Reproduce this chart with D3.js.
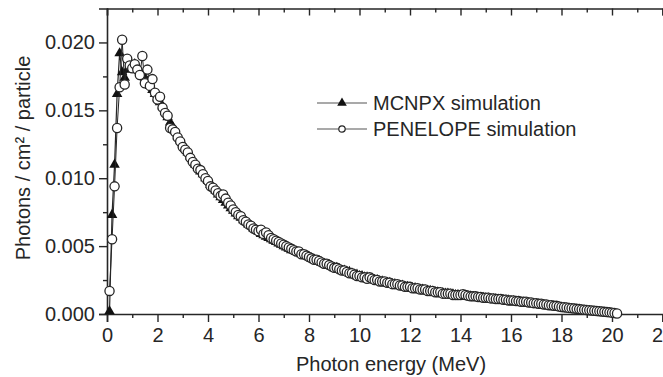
<!DOCTYPE html>
<html>
<head>
<meta charset="utf-8">
<script src="https://cdn.jsdelivr.net/npm/d3@7"></script>
<style>
  body { margin: 0; background: #fff; }
  svg { display: block; font-family: "Liberation Sans", Arial, sans-serif; }
</style>
</head>
<body>
<div id="chart"></div>
<script>
// Photon spectrum, values in units of 1e-4 photons / cm² / particle
const unit = 1e-4;

// bin grid of 0.1 MeV
const penelopeEnergy = d3.range(1, 203).map(i => i / 10);
const mcnpxEnergy = d3.range(1, 201).map(i => i / 10);

const penelopeValues = [
  17, 55, 94, 137, 167, 202, 169, 188, 183, 181,
  184, 180, 176, 190, 170, 180, 168, 173, 163, 158,
  160, 152, 148, 146, 137, 136, 134, 130, 127, 123,
  121, 119, 115, 112, 110, 107, 106, 103, 100, 98,
  94, 93, 91, 89, 87, 88, 85, 82, 80, 77,
  75, 73, 72, 69, 68, 66, 65, 63, 62, 61,
  62, 59, 60, 58, 56, 55, 54, 53, 52, 51,
  50, 49, 48, 47, 46, 46, 44, 44, 43, 42,
  41, 40, 40, 39, 38, 37, 37, 36, 35, 34,
  34, 33, 32, 32, 31, 30, 30, 29, 28, 28,
  27, 27, 26, 27, 26, 25, 25, 24, 24, 24,
  23, 23, 22, 22, 22, 21, 21, 20, 20, 20,
  19, 19, 19, 18, 18, 18, 17, 17, 17, 16,
  16, 16, 15, 15, 15, 15, 14, 14, 14, 14,
  14.5, 14, 13.5, 13, 13, 13, 12.5, 12.5, 12, 12,
  12, 11.5, 11.5, 11, 11, 11, 10.5, 10.5, 10, 10,
  10, 9.5, 9.5, 9, 9, 9, 8.5, 8.5, 8, 8,
  7.5, 7.5, 7, 7, 6.5, 6.5, 6, 6, 5.5, 5.2,
  5, 4.8, 4.5, 4.3, 4, 3.8, 3.6, 3.4, 3.2, 3,
  2.8, 2.6, 2.4, 2.2, 2, 1.8, 1.6, 1.4, 1.2, 1,
  0.7, 0.4
];

const mcnpxValues = [
  2, 73, 110, 162, 192, 178, 174, 180, 182, 183,
  184, 182, 179, 176, 174, 171, 168, 165, 162, 159,
  156, 153, 149, 145, 141, 138, 135, 131, 128, 125,
  122, 119, 116, 113, 110, 108, 105, 103, 100, 98,
  95, 93, 91, 88, 86, 84, 82, 80, 78, 76,
  74, 72, 71, 69, 68, 66, 65, 63, 62, 61,
  59, 58, 57, 56, 55, 54, 53, 52, 51, 50,
  49, 48, 47, 47, 46, 45, 44, 43, 43, 42,
  41, 40, 39, 39, 38, 37, 36, 36, 35, 34,
  34, 33, 32, 32, 31, 31, 30, 29, 29, 28,
  28, 27, 27, 26, 26, 25, 25, 24, 24, 23,
  23, 23, 22, 22, 21, 21, 21, 20, 20, 19.5,
  19, 19, 18.5, 18, 18, 17.5, 17, 17, 16.5, 16,
  16, 15.5, 15.5, 15, 15, 14.5, 14.5, 14, 14, 13.5,
  13.5, 13, 13, 13, 12.5, 12.5, 12, 12, 12, 11.5,
  11.5, 11, 11, 11, 10.5, 10.5, 10, 10, 10, 9.5,
  9.5, 9, 9, 8.5, 8.5, 8, 8, 7.5, 7.5, 7,
  7, 6.5, 6.5, 6, 6, 5.5, 5.5, 5, 5, 4.5,
  4.5, 4, 4, 3.5, 3.5, 3, 3, 2.8, 2.5, 2.2,
  2, 1.8, 1.6, 1.4, 1.2, 1, 0.8, 0.6, 0.4, 0.2
];

const xTicks = [0, 2, 4, 6, 8, 10, 12, 14, 16, 18, 20, 22];
const yTicks = [0, 0.005, 0.010, 0.015, 0.020];
const seriesNames = ['MCNPX simulation', 'PENELOPE simulation'];

const W = 663, H = 377;
const ink = '#262626';
const fontSize = '20px';

const svg = d3.select('#chart').append('svg')
  .attr('width', W)
  .attr('height', H);

const x = d3.scaleLinear().domain([0, 22]).range([107, 662.5]);
const y = d3.scaleLinear().domain([0, 0.0225]).range([314, 8.5]);

const mcnpx = mcnpxEnergy.map((e, i) => ({x: e, y: mcnpxValues[i] * unit}));
const penelope = penelopeEnergy.map((e, i) => ({x: e, y: penelopeValues[i] * unit}));

// axes
const xAxis = svg.append('g')
  .attr('transform', `translate(0,${y(0)})`)
  .call(d3.axisBottom(x).tickValues(xTicks).tickFormat(d3.format('d')).tickSize(8).tickPadding(4));
svg.append('g')
  .attr('transform', `translate(0,${y(0)})`)
  .call(d3.axisBottom(x).tickValues(d3.range(1, 22, 2)).tickFormat('').tickSize(4))
  .select('.domain').remove();

svg.append('g')
  .attr('transform', `translate(${x(0)},0)`)
  .call(d3.axisLeft(y).tickValues(yTicks).tickFormat(d3.format('.3f')).tickSize(8).tickPadding(4));
svg.append('g')
  .attr('transform', `translate(${x(0)},0)`)
  .call(d3.axisLeft(y).tickValues([0.0025, 0.0075, 0.0125, 0.0175]).tickFormat('').tickSize(4))
  .select('.domain').remove();

// top frame with inward ticks
svg.append('g')
  .attr('transform', `translate(0,${y(0.0225)})`)
  .call(d3.axisTop(x).tickValues(xTicks).tickFormat('').tickSize(-7));
svg.append('g')
  .attr('transform', `translate(0,${y(0.0225)})`)
  .call(d3.axisTop(x).tickValues(d3.range(1, 22, 2)).tickFormat('').tickSize(-4))
  .select('.domain').remove();

svg.selectAll('.domain').attr('stroke', ink).attr('stroke-width', 1.6);
svg.selectAll('.tick line').attr('stroke', ink).attr('stroke-width', 1.4);
svg.selectAll('.tick text')
  .attr('fill', ink)
  .style('font-size', fontSize)
  .style('font-family', '"Liberation Sans", Arial, sans-serif');
xAxis.selectAll('.tick text').attr('dy', '0.8em');

// axis titles
svg.append('text')
  .attr('x', 391)
  .attr('y', 371)
  .attr('text-anchor', 'middle')
  .attr('fill', ink)
  .style('font-size', fontSize)
  .text('Photon energy (MeV)');

svg.append('text')
  .attr('transform', 'translate(30,158) rotate(-90)')
  .attr('text-anchor', 'middle')
  .attr('fill', ink)
  .style('font-size', fontSize)
  .text('Photons / cm² / particle');

// series
const line = d3.line().x(d => x(d.x)).y(d => y(d.y));
const tri = d3.symbol().type(d3.symbolTriangle).size(48);

svg.append('path')
  .datum(mcnpx)
  .attr('fill', 'none')
  .attr('stroke', ink)
  .attr('stroke-width', 1.2)
  .attr('d', line);

svg.append('g').selectAll('path')
  .data(mcnpx)
  .join('path')
  .attr('transform', d => `translate(${x(d.x)},${y(d.y)})`)
  .attr('d', tri)
  .attr('fill', '#111');

svg.append('path')
  .datum(penelope)
  .attr('fill', 'none')
  .attr('stroke', ink)
  .attr('stroke-width', 1)
  .attr('d', line);

svg.append('g').selectAll('circle')
  .data(penelope)
  .join('circle')
  .attr('cx', d => x(d.x))
  .attr('cy', d => y(d.y))
  .attr('r', 4.6)
  .attr('fill', '#fff')
  .attr('stroke', ink)
  .attr('stroke-width', 1.3);

// legend
const legend = svg.append('g').attr('transform', 'translate(317,103)');
seriesNames.forEach((name, i) => {
  const g = legend.append('g').attr('transform', `translate(0,${i * 26})`);
  g.append('line')
    .attr('x1', 0).attr('x2', 50)
    .attr('stroke', '#555').attr('stroke-width', 1.2);
  if (i === 0) {
    g.append('path')
      .attr('transform', 'translate(25,0)')
      .attr('d', d3.symbol().type(d3.symbolTriangle).size(40))
      .attr('fill', '#111');
  } else {
    g.append('circle')
      .attr('cx', 25).attr('r', 3.2)
      .attr('fill', '#fff').attr('stroke', ink).attr('stroke-width', 1.2);
  }
  g.append('text')
    .attr('x', 56)
    .attr('dy', '0.35em')
    .attr('fill', ink)
    .style('font-size', fontSize)
    .text(name);
});
</script>
</body>
</html>
